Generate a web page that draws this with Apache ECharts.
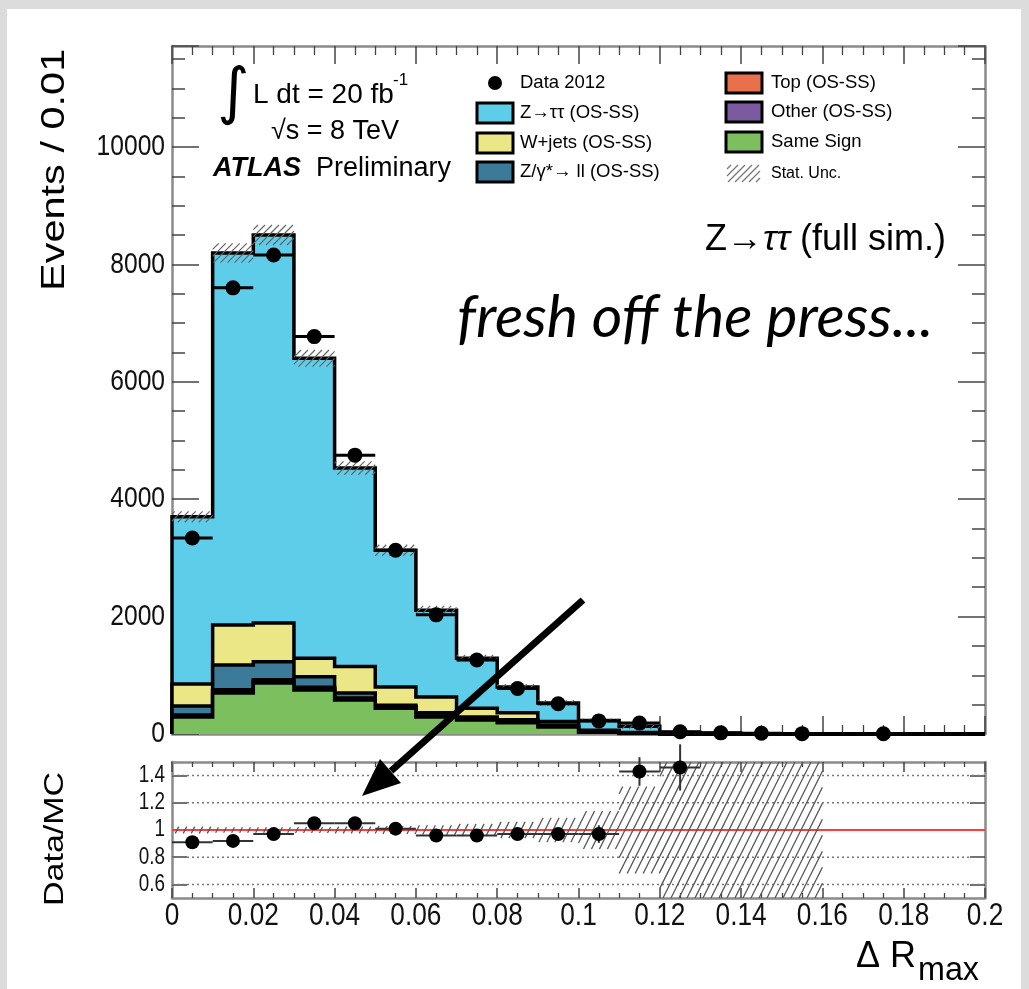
<!DOCTYPE html>
<html>
<head>
<meta charset="utf-8">
<script src="https://cdn.jsdelivr.net/npm/echarts@6/dist/echarts.min.js"></script>
<style>
  html, body { margin: 0; padding: 0; background: #dcdcdc; }
  #c { width: 1029px; height: 989px; }
</style>
</head>
<body>
<div id="c"></div>
<script>
// ---- binning: ΔR_max in 20 bins of 0.01 ----
const binEdges = [0, 0.01, 0.02, 0.03, 0.04, 0.05, 0.06, 0.07, 0.08, 0.09, 0.10,
                  0.11, 0.12, 0.13, 0.14, 0.15, 0.16, 0.17, 0.18, 0.19, 0.20];

// ---- MC components (events / bin), stacked bottom to top ----
const sameSign    = [290, 700, 870, 750, 580, 440, 290, 240, 190, 120, 30, 10, 2, 0, 0, 0, 0, 0, 0, 0];
const otherOSSS   = [20, 30, 30, 25, 20, 15, 10, 10, 8, 5, 3, 2, 1, 0, 0, 0, 0, 0, 0, 0];
const topOSSS     = [15, 25, 25, 20, 15, 10, 8, 6, 5, 3, 2, 1, 0, 0, 0, 0, 0, 0, 0, 0];
const zllOSSS     = [150, 420, 305, 180, 85, 25, 52, 34, 40, 25, 10, 5, 1, 0, 0, 0, 0, 0, 0, 0];
const wjetsOSSS   = [375, 680, 660, 315, 450, 310, 270, 150, 120, 60, 20, 7, 0, 0, 0, 0, 0, 0, 0, 0];
const ztautauOSSS = [2850, 6340, 6610, 5110, 3380, 2330, 1480, 850, 437, 317, 165, 105, 22, 12, 6, 3, 0, 0, 0, 0];

// relative statistical uncertainty of the MC sum
const statRel = [0.025, 0.02, 0.02, 0.022, 0.025, 0.03, 0.035, 0.045, 0.06, 0.09, 0.14, 0.32, 0.6, 0.85, 1.0, 1.0, 0, 0, 0, 0];

// ---- data 2012 ----
const data2012 = [3340, 7600, 8160, 6770, 4750, 3130, 2030, 1260, 775, 515, 223, 186, 38, 20, 12, 6, null, 4, null, null];
const dataErr  = [58, 87, 90, 82, 69, 56, 45, 35, 28, 23, 15, 14, 6, 4.5, 3.5, 2.5, null, 2, null, null];

// ---- ratio panel ----
const ratio    = [0.91, 0.92, 0.97, 1.05, 1.05, 1.01, 0.96, 0.96, 0.97, 0.97, 0.97, 1.43, 1.46, null, null, null, null, null, null, null];
const ratioErr = [0.02, 0.012, 0.011, 0.012, 0.015, 0.018, 0.022, 0.028, 0.036, 0.043, 0.065, 0.105, 0.17, null, null, null, null, null, null, null];

// ---- tick labels ----
const xTickLabels = [0, 0.02, 0.04, 0.06, 0.08, 0.1, 0.12, 0.14, 0.16, 0.18, 0.2];
const yTickLabels = [0, 2000, 4000, 6000, 8000, 10000];
const ratioTicks = [0.6, 0.8, 1, 1.2, 1.4];
const ratioGridLines = [0.6, 0.8, 1.2, 1.4];

const SANS = "'Liberation Sans', Arial, Helvetica, sans-serif";
const FRAME = '#8a8a8a';
const TICK = '#444';

const layers = [
  { name: 'Same Sign',          vals: sameSign,    color: '#7cbf5f' },
  { name: 'Other (OS-SS)',      vals: otherOSSS,   color: '#7b5aa0' },
  { name: 'Top (OS-SS)',        vals: topOSSS,     color: '#e8704a' },
  { name: 'Z/γ*→ ll (OS-SS)',   vals: zllOSSS,     color: '#3b7b99' },
  { name: 'W+jets (OS-SS)',     vals: wjetsOSSS,   color: '#ebe787' },
  { name: 'Z→ττ (OS-SS)',       vals: ztautauOSSS, color: '#5ecde9' }
];
const nBins = binEdges.length - 1;
const cumulative = [];
let running = new Array(nBins).fill(0);
layers.forEach(l => { running = running.map((r, i) => r + l.vals[i]); cumulative.push(running.slice()); });
const mcTotal = cumulative[cumulative.length - 1];

function stepPoints(api, vals) {
  const pts = [api.coord([binEdges[0], 0])];
  for (let i = 0; i < vals.length; i++) {
    pts.push(api.coord([binEdges[i], vals[i]]));
    pts.push(api.coord([binEdges[i + 1], vals[i]]));
  }
  pts.push(api.coord([binEdges[vals.length], 0]));
  return pts;
}

// diagonal hatching inside a pixel rectangle; lines y = c - k*x on a fixed lattice
function hatch(x0, y0, x1, y1, step, k, style) {
  const out = [];
  if (x1 - x0 < 0.5 || y1 - y0 < 0.5) return out;
  const cMin = y0 + k * x0, cMax = y1 + k * x1;
  for (let c = Math.ceil(cMin / step) * step; c <= cMax; c += step) {
    const xa = Math.max(x0, (c - y1) / k), xb = Math.min(x1, (c - y0) / k);
    if (xb <= xa) continue;
    out.push({ type: 'line', shape: { x1: xa, y1: c - k * xa, x2: xb, y2: c - k * xb }, style });
  }
  return out;
}

function xAx(grid, pos, tickLen, minorLen) {
  return {
    type: 'value', gridIndex: grid, position: pos, min: 0, max: 0.2, interval: 0.02,
    axisLine: { show: true, onZero: false, lineStyle: { color: FRAME, width: 2.5 } },
    axisTick: { show: true, inside: true, length: tickLen, lineStyle: { color: TICK, width: 1.5 } },
    minorTick: { show: true, splitNumber: 4, length: minorLen, lineStyle: { color: TICK, width: 1.3 } },
    splitLine: { show: false },
    axisLabel: { show: false }
  };
}
function yMain(pos, interval, tickLen, lineShow) {
  return {
    type: 'value', gridIndex: 0, position: pos, min: 0, max: 11720, interval: interval,
    axisLine: { show: lineShow, onZero: false, lineStyle: { color: FRAME, width: 2.5 } },
    axisTick: { show: true, inside: true, length: tickLen, lineStyle: { color: TICK, width: 1.5 } },
    splitLine: { show: false },
    axisLabel: { show: false }
  };
}
function yRatio(pos) {
  return {
    type: 'value', gridIndex: 1, position: pos, min: 0.5, max: 1.5,
    axisLine: { show: true, onZero: false, lineStyle: { color: FRAME, width: 2.5 } },
    axisTick: { show: true, inside: true, length: 15, customValues: ratioTicks, lineStyle: { color: TICK, width: 1.5 } },
    splitLine: { show: false },
    axisLabel: { show: false }
  };
}

const dataPts = [];
data2012.forEach((v, i) => { if (v != null) dataPts.push([(binEdges[i] + binEdges[i + 1]) / 2, v, dataErr[i], binEdges[i], binEdges[i + 1]]); });
const ratioPts = [];
ratio.forEach((v, i) => { if (v != null) ratioPts.push([(binEdges[i] + binEdges[i + 1]) / 2, v, ratioErr[i], binEdges[i], binEdges[i + 1]]); });

function pointItem(api, r, lw, barColor) {
  const xc = api.value(0), y = api.value(1), e = api.value(2), lo = api.value(3), hi = api.value(4);
  const c = api.coord([xc, y]), l = api.coord([lo, y]), rr = api.coord([hi, y]);
  const t = api.coord([xc, y + e]), b = api.coord([xc, y - e]);
  return {
    type: 'group',
    children: [
      { type: 'line', shape: { x1: l[0], y1: l[1], x2: rr[0], y2: rr[1] }, style: { stroke: barColor, lineWidth: lw } },
      { type: 'line', shape: { x1: t[0], y1: t[1], x2: b[0], y2: b[1] }, style: { stroke: barColor, lineWidth: lw } },
      { type: 'circle', shape: { cx: c[0], cy: c[1], r: r }, style: { fill: '#000' } }
    ]
  };
}

// ---- text & legend ----
function txt(x, y, text, size, extra) {
  const el = {
    type: 'text', x: x, y: y, z: 20, silent: true,
    style: { text: text, fontSize: size, fontFamily: SANS, fill: '#000', align: 'left', verticalAlign: 'middle',
             textAlign: 'left', textVerticalAlign: 'middle' }
  };
  if (extra) {
    if (extra.style) Object.assign(el.style, extra.style);
    Object.keys(extra).forEach(k => { if (k !== 'style') el[k] = extra[k]; });
  }
  return el;
}

const legendLeft = [
  { label: 'Z→ττ (OS-SS)', color: '#5ecde9', y: 113 },
  { label: 'W+jets (OS-SS)', color: '#ebe787', y: 143 },
  { label: 'Z/γ*→ ll (OS-SS)', color: '#3b7b99', y: 172 }
];
const legendRight = [
  { label: 'Top (OS-SS)', color: '#e8704a', y: 83 },
  { label: 'Other (OS-SS)', color: '#7b5aa0', y: 112 },
  { label: 'Same Sign', color: '#7cbf5f', y: 142 }
];

const gfx = [];
gfx.push({ type: 'rect', shape: { x: 7, y: 9, width: 1014, height: 990 }, style: { fill: '#fff' }, z: -10, silent: true });

legendLeft.forEach(e => {
  gfx.push({ type: 'rect', shape: { x: 477, y: e.y - 10, width: 36, height: 20 }, style: { fill: e.color, stroke: '#000', lineWidth: 3 }, z: 20, silent: true });
  gfx.push(txt(520, e.y, e.label, 18.5));
});
legendRight.forEach(e => {
  gfx.push({ type: 'rect', shape: { x: 726, y: e.y - 10, width: 36, height: 20 }, style: { fill: e.color, stroke: '#000', lineWidth: 3 }, z: 20, silent: true });
  gfx.push(txt(771, e.y, e.label, 18.5));
});
gfx.push({ type: 'circle', shape: { cx: 495, cy: 83, r: 7 }, style: { fill: '#000' }, z: 20, silent: true });
gfx.push(txt(520, 83, 'Data 2012', 18.5));
gfx.push({ type: 'group', z: 20, silent: true,
  children: hatch(727, 165, 760, 182, 7, 1, { stroke: '#777', lineWidth: 1.2 }) });
gfx.push(txt(771, 174, 'Stat. Unc.', 16));

// luminosity / energy / experiment label
gfx.push(txt(217, 96, '∫', 62, { style: { fontFamily: "'DejaVu Sans', sans-serif" } }));
gfx.push(txt(253, 95, 'L dt = 20 fb', 28));
gfx.push(txt(393, 80, '-1', 17));
gfx.push(txt(271, 132, '√s = 8 TeV', 27));
gfx.push(txt(213, 169, 'ATLAS', 27, { style: { fontWeight: 'bold', fontStyle: 'italic' } }));
gfx.push(txt(316, 169, 'Preliminary', 27));

gfx.push({
  type: 'text', x: 705, y: 240, z: 20, silent: true,
  style: {
    text: '{a|Z→}{b|ττ}{a| (full sim.)}', align: 'left', verticalAlign: 'middle',
    fontSize: 36, fontFamily: SANS, fill: '#000',
    rich: { a: { fontSize: 36, fontFamily: SANS, fill: '#000' }, b: { fontSize: 36, fontFamily: SANS, fontStyle: 'italic', fill: '#000' } }
  }
});

gfx.push(txt(457, 318, 'fresh off the press...', 59, { style: { fontFamily: "Lato, 'Open Sans', sans-serif", fontStyle: 'italic' } }));

// axis titles
gfx.push(txt(55, 291, 'Events / 0.01', 41.5, { rotation: Math.PI / 2, scaleY: 0.8 }));
gfx.push(txt(55, 906, 'Data/MC', 34, { rotation: Math.PI / 2, scaleY: 0.82 }));
gfx.push(txt(916, 957, 'Δ R', 36, { style: { align: 'right', textAlign: 'right' } }));
gfx.push(txt(918, 971, 'max', 34, { scaleX: 0.95 }));

// arrow
gfx.push({ type: 'line', shape: { x1: 583, y1: 600, x2: 391, y2: 771 }, style: { stroke: '#000', lineWidth: 7 }, z: 30, silent: true });
gfx.push({ type: 'polygon', shape: { points: [[362, 796], [401, 783], [380, 759]] }, style: { fill: '#000' }, z: 30, silent: true });

const option = {
  animation: false,
  backgroundColor: '#dcdcdc',
  grid: [
    { left: 172, top: 46, width: 813, height: 688 },
    { left: 172, top: 762, width: 813, height: 136 }
  ],
  xAxis: [
    xAx(0, 'bottom', 18, 9),
    xAx(0, 'top', 18, 9),
    xAx(1, 'bottom', 10, 5),
    xAx(1, 'top', 10, 5)
  ],
  yAxis: [
    yMain('left', 2000, 27, true),
    yMain('right', 2000, 27, true),
    yMain('left', 500, 13, false),
    yMain('right', 500, 13, false),
    yRatio('left'),
    yRatio('right')
  ],
  series: [
    {
      // stacked MC, drawn top layer first so lower layers cover it
      type: 'custom', xAxisIndex: 0, yAxisIndex: 0, data: [[0.1, 0]], silent: true, z: 2,
      renderItem: (params, api) => {
        const children = [];
        for (let k = layers.length - 1; k >= 0; k--) {
          const pts = stepPoints(api, cumulative[k]);
          children.push({ type: 'polygon', shape: { points: pts }, style: { fill: layers[k].color } });
          children.push({ type: 'polyline', shape: { points: pts }, style: { fill: null, stroke: '#000', lineWidth: 3.5 } });
        }
        return { type: 'group', children };
      }
    },
    {
      // MC statistical uncertainty band
      type: 'custom', xAxisIndex: 0, yAxisIndex: 0, data: [[0.1, 0]], silent: true, z: 3,
      renderItem: (params, api) => {
        let children = [];
        for (let i = 0; i < nBins; i++) {
          if (!(statRel[i] > 0 && mcTotal[i] > 0)) continue;
          const p0 = api.coord([binEdges[i], mcTotal[i] * (1 + statRel[i])]);
          const p1 = api.coord([binEdges[i + 1], Math.max(0, mcTotal[i] * (1 - statRel[i]))]);
          children = children.concat(hatch(p0[0], p0[1], p1[0], p1[1], 7, 1, { stroke: '#666', lineWidth: 1.2 }));
        }
        return { type: 'group', children };
      }
    },
    {
      type: 'custom', name: 'Data 2012', xAxisIndex: 0, yAxisIndex: 0, data: dataPts, silent: true, z: 4,
      renderItem: (params, api) => pointItem(api, 7.5, 3, '#000')
    },
    {
      // ratio: reference lines
      type: 'custom', xAxisIndex: 2, yAxisIndex: 4, data: [[0.1, 1]], silent: true, z: 2,
      renderItem: (params, api) => {
        const children = ratioGridLines.map(v => {
          const a = api.coord([0, v]), b = api.coord([0.2, v]);
          return { type: 'line', shape: { x1: a[0], y1: a[1], x2: b[0], y2: b[1] }, style: { stroke: '#777', lineWidth: 1.5, lineDash: [2, 3] } };
        });
        const a = api.coord([0, 1]), b = api.coord([0.2, 1]);
        children.push({ type: 'line', shape: { x1: a[0], y1: a[1], x2: b[0], y2: b[1] }, style: { stroke: '#ff3b3b', lineWidth: 2 } });
        return { type: 'group', children };
      }
    },
    {
      // ratio: MC statistical uncertainty
      type: 'custom', xAxisIndex: 2, yAxisIndex: 4, data: [[0.1, 1]], silent: true, z: 3,
      renderItem: (params, api) => {
        let children = [];
        for (let i = 0; i < nBins; i++) {
          if (!(statRel[i] > 0)) continue;
          const p0 = api.coord([binEdges[i], Math.min(1.5, 1 + statRel[i])]);
          const p1 = api.coord([binEdges[i + 1], Math.max(0.5, 1 - statRel[i])]);
          children = children.concat(hatch(p0[0], p0[1], p1[0], p1[1], 16, 2, { stroke: '#555', lineWidth: 1.3 }));
        }
        return { type: 'group', children };
      }
    },
    {
      type: 'custom', name: 'Data/MC', xAxisIndex: 2, yAxisIndex: 4, data: ratioPts, silent: true, z: 4,
      renderItem: (params, api) => pointItem(api, 7, 2, '#333')
    }
  ]
};

const chart = echarts.init(document.getElementById('c'), null, { renderer: 'canvas', width: 1029, height: 989 });
chart.setOption(option);

// tick labels, placed at the positions the axes give for each value
const LABEL = '#111';
xTickLabels.forEach(v => {
  const px = chart.convertToPixel({ xAxisIndex: 2 }, v);
  gfx.push(txt(px, 916, String(v), 32, { scaleX: 0.82, style: { align: 'center', textAlign: 'center', fill: LABEL } }));
});
yTickLabels.forEach(v => {
  const py = chart.convertToPixel({ yAxisIndex: 0 }, v);
  gfx.push(txt(165, py, String(v), 30, { scaleX: 0.82, style: { align: 'right', textAlign: 'right', fill: LABEL } }));
});
ratioTicks.forEach(v => {
  const py = chart.convertToPixel({ yAxisIndex: 4 }, v);
  gfx.push(txt(165, py, String(v), 23, { scaleX: 0.82, style: { align: 'right', textAlign: 'right', fill: LABEL } }));
});
chart.setOption({ graphic: { elements: gfx } });
</script>
</body>
</html>
